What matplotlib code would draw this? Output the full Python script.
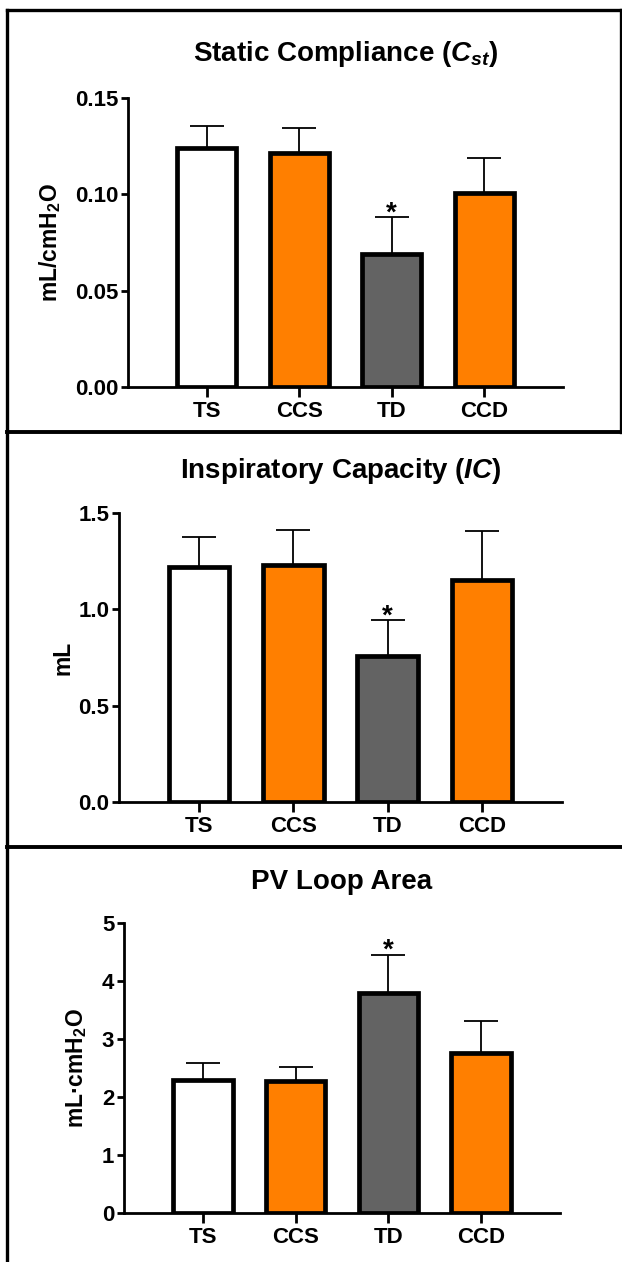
import numpy as np
import matplotlib
matplotlib.use('Agg')
from matplotlib import pyplot as plt
from matplotlib.lines import Line2D

plt.rcParams['font.family'] = ['Liberation Sans', 'DejaVu Sans']
plt.rcParams['font.weight'] = 'bold'
plt.rcParams['mathtext.fontset'] = 'custom'
plt.rcParams['mathtext.rm'] = 'Liberation Sans:bold'
plt.rcParams['mathtext.bf'] = 'Liberation Sans:bold'
plt.rcParams['mathtext.it'] = 'Liberation Sans:italic:bold'

# group labels and values (mean, upper SEM)
groups = ['TS', 'CCS', 'TD', 'CCD']
colors = ['#ffffff', '#ff7f00', '#636363', '#ff7f00']

cst_mean = [0.124, 0.1215, 0.069, 0.1006]
cst_err = [0.0115, 0.013, 0.019, 0.018]

ic_mean = [1.22, 1.23, 0.758, 1.15]
ic_err = [0.156, 0.178, 0.185, 0.257]

pv_mean = [2.30, 2.28, 3.80, 2.765]
pv_err = [0.29, 0.24, 0.66, 0.54]

star_group = 'TD'

W, H = 622, 1262
fig = plt.figure(figsize=(W / 100, H / 100), dpi=100)


def px_axes(left, right, top, bottom):
    return fig.add_axes([left / W, 1 - bottom / H, (right - left) / W, (bottom - top) / H])


def bar_panel(ax, means, errs, ticks, fmt, title, ylabel, title_y, label_x):
    x = np.arange(len(groups))
    ax.errorbar(x, means, yerr=[np.zeros(len(errs)), errs], fmt='none',
                ecolor='black', elinewidth=1.3, capsize=12, capthick=1.3, zorder=1)
    ax.bar(x, means, width=0.64, color=colors, edgecolor='black', linewidth=3.4, zorder=2)
    i = groups.index(star_group)
    ax.annotate('*', (x[i], means[i] + errs[i]), xytext=(0, -2.5), textcoords='offset points',
                ha='center', va='baseline', fontsize=20, fontweight='bold')
    ax.set_xlim(-0.85, 3.85)
    ax.set_ylim(ticks[0], ticks[-1])
    ax.set_yticks(ticks)
    ax.set_yticklabels([fmt.format(t) for t in ticks])
    ax.set_xticks(x)
    ax.set_xticklabels(groups)
    for s in ['top', 'right']:
        ax.spines[s].set_visible(False)
    for s in ['left', 'bottom']:
        ax.spines[s].set_linewidth(2.0)
    ax.spines['left'].set_bounds(ticks[0], ticks[-1])
    ax.tick_params(axis='both', width=2.0, length=5, labelsize=16, pad=2)
    ax.tick_params(axis='x', length=7, pad=3, labelsize=16)
    pos = ax.get_position()
    fig.text(pos.x0 + pos.width / 2, 1 - title_y / H, title, ha='center', va='baseline',
             fontsize=20, fontweight='bold')
    fig.text(label_x / W, pos.y0 + pos.height / 2, ylabel, rotation=90, ha='center',
             va='center', fontsize=16.5, fontweight='bold')


ax1 = px_axes(128, 563, 97.7, 387)
bar_panel(ax1, cst_mean, cst_err, [0.0, 0.05, 0.10, 0.15], '{:.2f}',
          r'Static Compliance ($\mathit{C}_{\mathit{st}}$)', 'mL/cmH$_2$O', 61, 50)

ax2 = px_axes(119, 562, 512.7, 802.3)
bar_panel(ax2, ic_mean, ic_err, [0.0, 0.5, 1.0, 1.5], '{:.1f}',
          r'Inspiratory Capacity ($\mathit{IC}$)', 'mL', 478, 63)

ax3 = px_axes(124, 560, 923.3, 1212.7)
bar_panel(ax3, pv_mean, pv_err, [0, 1, 2, 3, 4, 5], '{:d}',
          'PV Loop Area', 'mL·cmH$_2$O', 889, 77)

# panel frame lines
def fline(x0, y0, x1, y1, lw=2.4):
    fig.add_artist(Line2D([x0 / W, x1 / W], [1 - y0 / H, 1 - y1 / H], color='black',
                          linewidth=lw, transform=fig.transFigure, solid_capstyle='projecting'))

fline(7.5, 9.5, 620.5, 9.5)
fline(7.5, 9.5, 7.5, H)
fline(620.5, 9.5, 620.5, 432)
fline(7.5, 432, W, 432, lw=2.8)
fline(7.5, 847, W, 847, lw=2.8)

fig.savefig('out.png', dpi=100)
